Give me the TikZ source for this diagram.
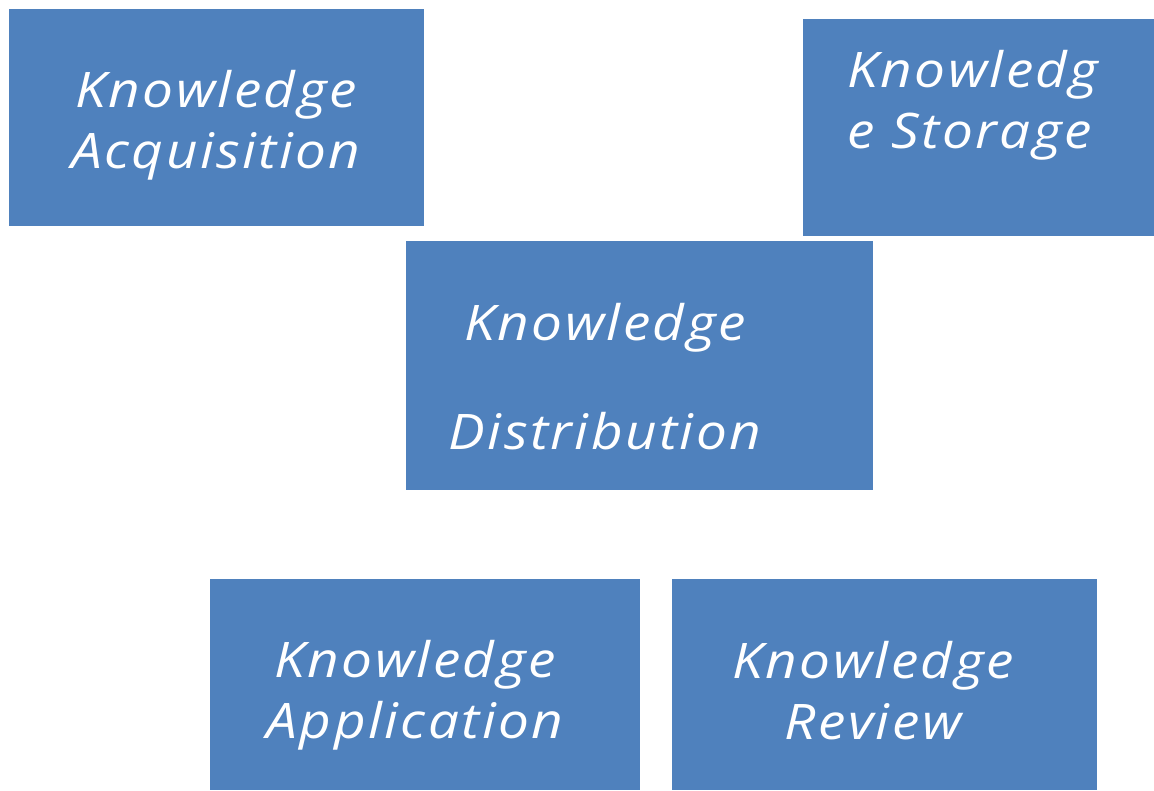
\documentclass[tikz,border=0pt]{standalone}
\usepackage{fontspec}
\setmainfont{Open Sans}
\newfontfamily\widefont[FakeStretch=1.12, LetterSpace=5]{Open Sans}
\usepackage{xcolor}
\definecolor{boxblue}{HTML}{4F81BD}

\begin{document}
\begin{tikzpicture}[x=1pt, y=-1pt,
                    every node/.style={inner sep=0pt},
                    kbox/.style={rectangle, fill=boxblue},
                    ktext/.style={text=white, align=center,
                                  font=\widefont\fontsize{49}{61}\selectfont\itshape}]
        \useasboundingbox (0,0) rectangle (1154,790);
        % Boxes
        \node[kbox, minimum width=415pt, minimum height=217pt] (acq)  at (216.5,117.5) {};
        \node[kbox, minimum width=351pt, minimum height=217pt] (stor) at (978.5,127.5) {};
        \node[kbox, minimum width=467pt, minimum height=249pt] (dist) at (639.5,365.5) {};
        \node[kbox, minimum width=430pt, minimum height=211pt] (appl) at (425,684.5) {};
        \node[kbox, minimum width=425pt, minimum height=211pt] (rev)  at (884.5,684.5) {};
        % Labels
        \node[ktext] (acqtext)  at (216,125) {Knowledge\\Acquisition};
        \node[ktext, align=left] (stortext) at (973,105) {Knowledg\\e Storage};
        \node[ktext] (disttext) at (605,377) {Knowledge\\[48pt]Distribution};
        \node[ktext] (appltext) at (415,695) {Knowledge\\Application};
        \node[ktext] (revtext)  at (873,691) {Knowledge\\Review};
    \end{tikzpicture}
\end{document}
